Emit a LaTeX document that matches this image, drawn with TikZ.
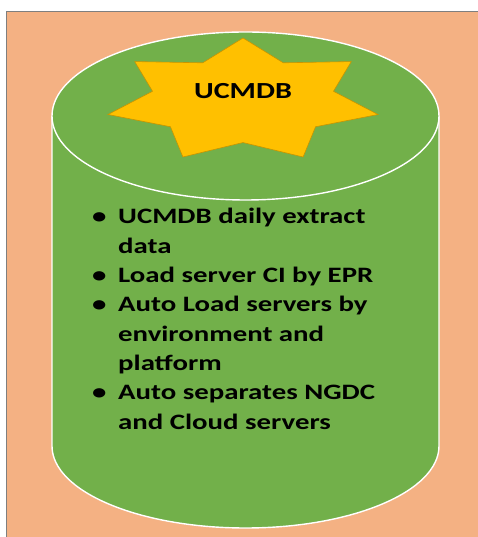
\documentclass[tikz,border=0pt]{standalone}
\usepackage{fontspec}
\setmainfont{Carlito}[FakeStretch=1.31]
\definecolor{salmon}{HTML}{F4B183}
\definecolor{dbgreen}{HTML}{72B04A}
\definecolor{stargold}{HTML}{FFC000}
\definecolor{starline}{HTML}{C99400}
\definecolor{frame}{HTML}{7F7F7F}
\begin{document}
\begin{tikzpicture}[x=1pt,y=1pt]

		\tikzstyle{cyl}=[fill=dbgreen,draw=white,line width=1.4pt]
		\tikzstyle{starshape}=[fill=stargold,draw=starline,line width=0.6pt,
			line join=miter]
		\tikzstyle{label}=[font=\bfseries\fontsize{23}{28}\selectfont,
			inner sep=0pt]
		\tikzstyle{list}=[font=\bfseries\fontsize{22}{29.3}\selectfont,
			anchor=base west,inner sep=0pt,align=left]

		\useasboundingbox (0,0) rectangle (478,537);
		\fill[white] (0,0) rectangle (478,537);
		\fill[salmon] (6.5,0) rectangle (478,525.5);
		\draw[frame,line width=1.5pt] (6.5,0) -- (6.5,525.5) -- (478,525.5);

		% database body
		\draw[cyl] (52,421) -- (52,91)
			arc[start angle=180,end angle=360,x radius=193.5,y radius=82]
			-- (439,421);
		\draw[cyl] (245.5,421) ellipse[x radius=193.5,y radius=84];

		% star on the lid
		\begin{scope}[shift={(243,436.4)},xscale=138.5,yscale=62.6]
			\draw[starshape] (90:1)
				\foreach \a in {0,...,6} {
					-- ({90+\a*360/7+360/14}:0.67) -- ({90+(\a+1)*360/7}:1)
				} -- cycle;
		\end{scope}
		\node[label]	(title)	at (243,446)	{UCMDB};

		\node[list]	(points)	at (92,313)	{%
			\begin{tabular}[t]{@{}l@{}l@{}}
				\makebox[26pt][l]{\textbullet} & UCMDB daily extract\\
				& data\\
				\makebox[26pt][l]{\textbullet} & Load server CI by EPR\\
				\makebox[26pt][l]{\textbullet} & Auto Load servers by\\
				& environment and\\
				& platform\\
				\makebox[26pt][l]{\textbullet} & Auto separates NGDC\\
				& and Cloud servers
			\end{tabular}};

	\end{tikzpicture}
\end{document}
